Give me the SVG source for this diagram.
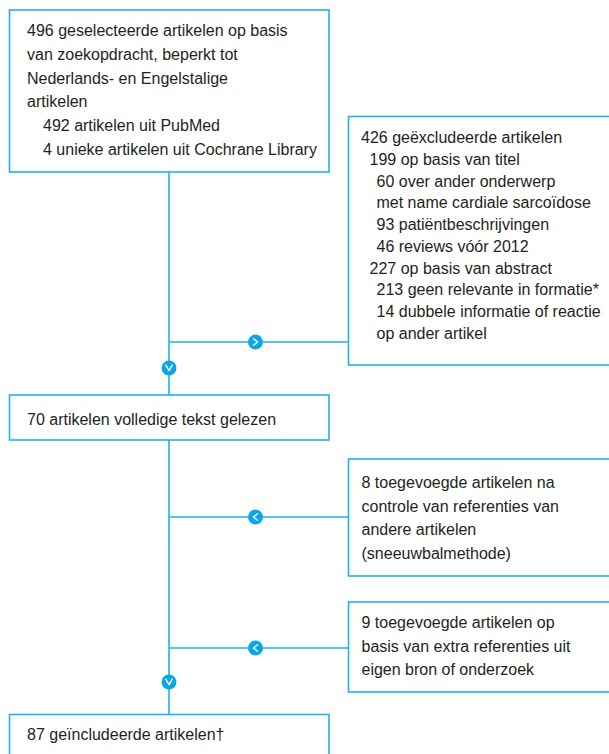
<svg xmlns="http://www.w3.org/2000/svg" width="609" height="754" viewBox="0 0 609 754">
<defs>
<style>
.box{fill:#ffffff;stroke:#22b2e8;stroke-width:1.6}
.ln{fill:none;stroke:#22b2e8;stroke-width:1.6}
.t{font-family:"Liberation Sans",Arial,sans-serif;font-size:16px;fill:#231f20}
.dot{fill:#0aa6e6}
.chev{fill:none;stroke:#ffffff;stroke-width:1.4;stroke-linecap:round;stroke-linejoin:round}
</style>
</defs>
<rect width="609" height="754" fill="#ffffff"/>
<g id="connectors">
<path class="ln" d="M169,172 V395 M169,440 V714.5 M169,342 H348.5 M169,517 H348.5 M169,648 H348.5"/>
<circle class="dot" cx="255.5" cy="342" r="7.5"/>
<path class="chev" d="M253.5,338.8 L257.6,342 L253.5,345.2"/>
<circle class="dot" cx="169" cy="368" r="7.5"/>
<path class="chev" d="M165.8,365.2 L169,370.6 L172.2,365.2"/>
<circle class="dot" cx="255.5" cy="517" r="7.5"/>
<path class="chev" d="M257.5,513.8 L253.4,517 L257.5,520.2"/>
<circle class="dot" cx="255.5" cy="648" r="7.5"/>
<path class="chev" d="M257.5,644.8 L253.4,648 L257.5,651.2"/>
<circle class="dot" cx="169" cy="682" r="7.5"/>
<path class="chev" d="M165.8,679.2 L169,684.6 L172.2,679.2"/>
</g>
<g id="n1">
<rect class="box" x="9.5" y="10" width="319.5" height="162"/>
<text class="t" x="27" y="36">496 geselecteerde artikelen op basis</text>
<text class="t" x="27" y="59.8">van zoekopdracht, beperkt tot</text>
<text class="t" x="27" y="83.6">Nederlands- en Engelstalige</text>
<text class="t" x="27" y="107.4">artikelen</text>
<text class="t" x="43" y="131.2">492 artikelen uit PubMed</text>
<text class="t" x="43" y="155">4 unieke artikelen uit Cochrane Library</text>
</g>
<g id="n2">
<rect class="box" x="348.5" y="116.5" width="280" height="248.5"/>
<text class="t" x="361" y="143.3">426 geëxcludeerde artikelen</text>
<text class="t" x="369.5" y="165">199 op basis van titel</text>
<text class="t" x="376.5" y="186.7">60 over ander onderwerp</text>
<text class="t" x="376.5" y="208.4">met name cardiale sarcoïdose</text>
<text class="t" x="376.5" y="230.1">93 patiëntbeschrijvingen</text>
<text class="t" x="376.5" y="251.8">46 reviews vóór 2012</text>
<text class="t" x="369.5" y="273.5">227 op basis van abstract</text>
<text class="t" x="376.5" y="295.2">213 geen relevante in formatie*</text>
<text class="t" x="376.5" y="316.9">14 dubbele informatie of reactie</text>
<text class="t" x="376.5" y="338.6">op ander artikel</text>
</g>
<g id="n3">
<rect class="box" x="9.5" y="395" width="319.5" height="45"/>
<text class="t" x="27" y="425">70 artikelen volledige tekst gelezen</text>
</g>
<g id="n4">
<rect class="box" x="348.5" y="459" width="280" height="117"/>
<text class="t" x="361.5" y="488">8 toegevoegde artikelen na</text>
<text class="t" x="361.5" y="511.5">controle van referenties van</text>
<text class="t" x="361.5" y="535">andere artikelen</text>
<text class="t" x="361.5" y="558.5">(sneeuwbalmethode)</text>
</g>
<g id="n5">
<rect class="box" x="348.5" y="602" width="280" height="90"/>
<text class="t" x="361.5" y="628.3">9 toegevoegde artikelen op</text>
<text class="t" x="361.5" y="651.7">basis van extra referenties uit</text>
<text class="t" x="361.5" y="675">eigen bron of onderzoek</text>
</g>
<g id="n6">
<rect class="box" x="9.5" y="714.5" width="319.5" height="60"/>
<text class="t" x="27" y="740">87 geïncludeerde artikelen†</text>
</g>
</svg>
